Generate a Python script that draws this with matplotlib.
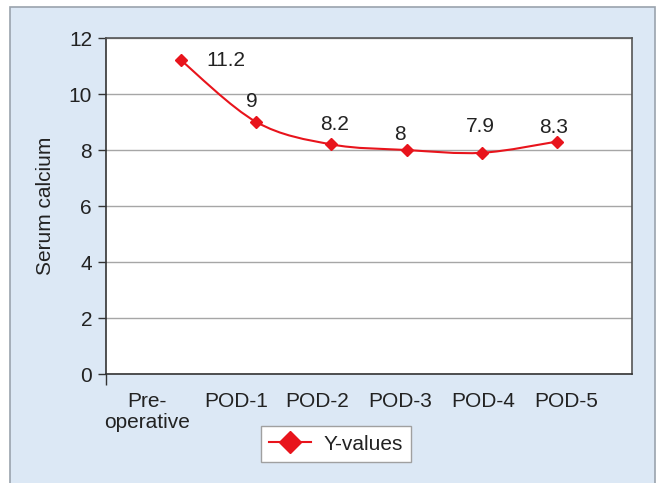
import matplotlib.pyplot as plt
import matplotlib.patches as patches
from matplotlib.path import Path
from matplotlib.lines import Line2D
import numpy as np

plt.rcParams['font.family'] = ['Liberation Sans', 'DejaVu Sans']

categories = ['Pre-\noperative', 'POD-1', 'POD-2', 'POD-3', 'POD-4', 'POD-5']
serum_calcium = [11.2, 9, 8.2, 8, 7.9, 8.3]
value_labels = ['11.2', '9', '8.2', '8', '7.9', '8.3']
y_ticks = [0, 2, 4, 6, 8, 10, 12]

# layout only: where the category names sit (they are spread wider than the points)
label_x = [0.55, 1.73, 2.81, 3.91, 5.02, 6.12]
# value label offsets in points
label_offsets = [(32, 0), (-3, 15), (2, 14), (-5, 11), (-1, 19), (-2, 10)]

red = '#e8141c'
panel_blue = '#dce8f5'
text_col = '#222222'
fs = 15


def smooth_path(xs, ys):
    # Catmull-Rom style bezier, like a spreadsheet "smoothed line"
    pts = np.column_stack([xs, ys]).astype(float)
    n = len(pts)
    verts = [pts[0]]
    codes = [Path.MOVETO]
    for i in range(n - 1):
        p0 = pts[i - 1] if i > 0 else pts[i]
        p1 = pts[i]
        p2 = pts[i + 1]
        p3 = pts[i + 2] if i + 2 < n else pts[i + 1]
        c1 = p1 + (p2 - p0) / 6.0
        c2 = p2 - (p3 - p1) / 6.0
        verts += [c1, c2, p2]
        codes += [Path.CURVE4] * 3
    return Path(verts, codes)


fig = plt.figure(figsize=(6.65, 4.83), dpi=100)
fig.patch.set_facecolor('white')
fig.patches.append(patches.Rectangle((10 / 665, -0.02), 645 / 665, 1 - 7 / 483 + 0.02,
                                     transform=fig.transFigure, fc=panel_blue,
                                     ec='#9aa3ad', lw=1.2, zorder=-5))

ax = fig.add_axes([106 / 665, 109 / 483, 526 / 665, 336 / 483])
ax.set_zorder(1)
ax.set_facecolor('white')

x = np.arange(1, len(categories) + 1)
ax.add_patch(patches.PathPatch(smooth_path(x, serum_calcium), fc='none', ec=red, lw=1.5, zorder=3))
ax.plot(x, serum_calcium, ls='none', marker='D', ms=6.5, color=red, zorder=4)

for xi, yi, txt, off in zip(x, serum_calcium, value_labels, label_offsets):
    ax.annotate(txt, (xi, yi), xytext=off, textcoords='offset points',
                ha='center', va='center', fontsize=fs, color=text_col)

ax.set_xlim(0, len(categories) + 1)
ax.set_ylim(0, 12)
ax.set_yticks(y_ticks)
ax.yaxis.grid(True, color='#a6a6a6', lw=1)
ax.set_axisbelow(True)
ax.tick_params(axis='y', direction='out', length=6, width=1, color='#333333',
               labelsize=fs, labelcolor=text_col, pad=4)
ax.set_xticks(label_x)
ax.set_xticklabels(categories, linespacing=1.15)
ax.tick_params(axis='x', length=0, labelsize=fs, labelcolor=text_col, pad=13)
ax.set_xticks([0], minor=True)
ax.tick_params(axis='x', which='minor', direction='out', length=8, width=1, color='#333333')
for s in ['left', 'bottom']:
    ax.spines[s].set_color('#333333')
    ax.spines[s].set_linewidth(1.2)
for s in ['top', 'right']:
    ax.spines[s].set_color('#555555')
    ax.spines[s].set_linewidth(1.2)

ax.set_ylabel('Serum calcium', fontsize=fs, color=text_col, labelpad=10)

handle = Line2D([], [], color=red, lw=1.5, marker='D', ms=11)
leg = fig.legend([handle], ['Y-values'], loc='center', bbox_to_anchor=(336 / 665, 1 - 444 / 483),
                 fontsize=fs, frameon=True, fancybox=False, edgecolor='#a0a0a0',
                 facecolor='white', framealpha=1, handlelength=2.0, handletextpad=0.6,
                 borderpad=0.4)
leg.set_zorder(2)
leg.get_frame().set_linewidth(1)
for t in leg.get_texts():
    t.set_color(text_col)

fig.savefig('out.png', dpi=100)
